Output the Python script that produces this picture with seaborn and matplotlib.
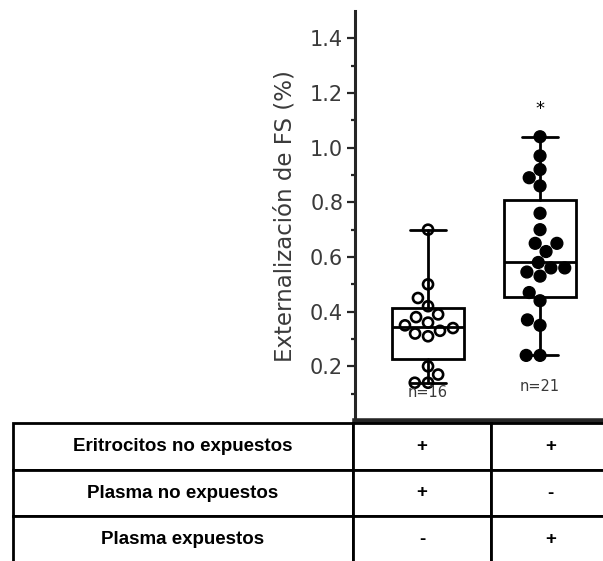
import numpy as np
import pandas as pd
import matplotlib
matplotlib.use('Agg')
import matplotlib.pyplot as plt
import seaborn as sns

# values (GraphPad-style box + scatter)
grupos = ['no_expuestos', 'expuestos']
no_expuestos = [0.70, 0.50, 0.45, 0.42, 0.39, 0.38, 0.36, 0.35,
                0.34, 0.33, 0.32, 0.31, 0.20, 0.17, 0.14, 0.14]
expuestos = [1.04, 0.97, 0.92, 0.89, 0.86, 0.76, 0.70, 0.65, 0.65, 0.62, 0.58,
             0.56, 0.56, 0.545, 0.53, 0.47, 0.44, 0.37, 0.35, 0.24, 0.24]
n_labels = ['n=16', 'n=21']
n_label_y = [0.105, 0.125]
yticks = [0.2, 0.4, 0.6, 0.8, 1.0, 1.2, 1.4]
yminor = [0.1, 0.3, 0.5, 0.7, 0.9, 1.1, 1.3]
row_labels = ['Eritrocitos no expuestos', 'Plasma no expuestos', 'Plasma expuestos']
col_no_expuestos = ['+', '+', '-']
col_expuestos = ['+', '-', '+']

TEXT_GREY = '#3a3a3a'


def box_stats(values, label):
    """Quartiles with the (n+1) method, whiskers min to max."""
    v = np.asarray(values)
    q1, med, q3 = np.percentile(v, [25, 50, 75], method='weibull')
    return dict(label=label, med=med, q1=q1, q3=q3,
                whislo=v.min(), whishi=v.max(), fliers=[])


sns.set_style('ticks')
plt.rcParams['font.family'] = ['DejaVu Sans']

fig = plt.figure(figsize=(6.03, 5.61), dpi=100)
W, H = 603, 561
ax = fig.add_axes([355 / W, (H - 421) / H, (W - 355) / W, (421 - 11) / H])

df = pd.DataFrame({
    'grupo': [grupos[0]] * len(no_expuestos) + [grupos[1]] * len(expuestos),
    'valor': no_expuestos + expuestos,
})

sns.swarmplot(data=df, x='grupo', y='valor', hue='grupo', order=grupos,
              palette={grupos[0]: 'white', grupos[1]: 'black'},
              size=8.5, edgecolor='black', linewidth=1, legend=False,
              zorder=3, ax=ax)
# open circles for the first group, a bit smaller with a thicker ring
open_pts, filled_pts = ax.collections[0], ax.collections[1]
open_pts.set_facecolor('none')
open_pts.set_sizes([7.2 ** 2])
open_pts.set_linewidth(1.9)

line = dict(color='black', linewidth=2)
ax.bxp([box_stats(no_expuestos, grupos[0]), box_stats(expuestos, grupos[1])],
       positions=[0, 1], widths=0.64, patch_artist=True, showfliers=False,
       manage_ticks=False, zorder=2,
       boxprops=dict(facecolor='white', edgecolor='black', linewidth=2),
       medianprops=line, whiskerprops=line, capprops=line)

for i, (txt, yy) in enumerate(zip(n_labels, n_label_y)):
    ax.text(i, yy, txt, ha='center', va='center', fontsize=10.5, color=TEXT_GREY)
ax.text(1, 1.14, '*', ha='center', va='center', fontsize=13, color='black')

ax.set_xlim(-0.652, 1.562)
ax.set_ylim(0, 1.5)
ax.set_yticks(yticks)
ax.set_yticklabels([f'{t:.1f}' for t in yticks])
ax.set_yticks(yminor, minor=True)
ax.tick_params(axis='y', which='major', length=6, width=1.6, labelsize=15,
               labelcolor=TEXT_GREY, pad=2.5)
ax.tick_params(axis='y', which='minor', length=3, width=1.6)
ax.set_xticks([])
ax.set_xlabel('')
ax.set_ylabel('Externalización de FS (%)', fontsize=16.5, color=TEXT_GREY, labelpad=10)
for side in ['top', 'right']:
    ax.spines[side].set_visible(False)
ax.spines['left'].set_linewidth(2.2)
ax.spines['bottom'].set_linewidth(4)
ax.patch.set_alpha(0)

# condition table under the plot
tax = fig.add_axes([0, 0, 1, (H - 421) / H])
tax.axis('off')
cells = [[lab, a, b] for lab, a, b in zip(row_labels, col_no_expuestos, col_expuestos)]
table = tax.table(cellText=cells, colWidths=[340, 138, 119], cellLoc='center',
                  bbox=[13 / W, -2 / 140, (610 - 13) / W, 140 / 140])
table.auto_set_font_size(False)
for cell in table.get_celld().values():
    cell.set_linewidth(2)
    cell.set_edgecolor('black')
    cell.get_text().set_fontfamily('Liberation Sans')
    cell.get_text().set_fontweight('bold')
    cell.get_text().set_fontsize(13.5)
    cell.get_text().set_color('black')

fig.savefig('out.png', dpi=100)
